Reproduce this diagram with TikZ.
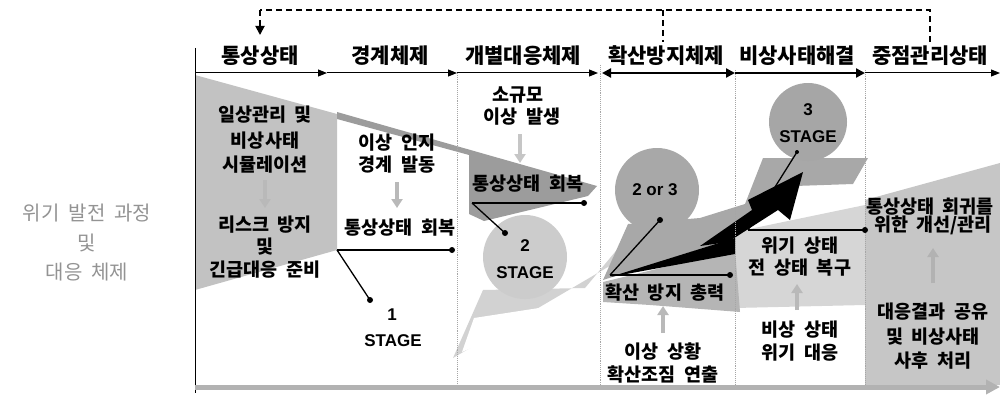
\documentclass[tikz,border=0pt]{standalone}
\usepackage{fontspec}
\setmainfont{Liberation Sans}
\newfontfamily\kr{Noto Sans CJK KR}
\newfontfamily\krw[WordSpace=2]{Noto Sans CJK KR}
\usetikzlibrary{arrows.meta}
\begin{document}
\begin{tikzpicture}[x=1pt,y=-1pt,
  hdr/.style={font=\kr\bfseries\fontsize{21}{21}\selectfont, inner sep=0pt},
  body/.style={font=\krw\bfseries\fontsize{18.5}{18.5}\selectfont, inner sep=0pt},
  side/.style={font=\krw\fontsize{20}{20}\selectfont, text=gray!85, inner sep=0pt},
  stg/.style={font=\bfseries\fontsize{17}{17}\selectfont, inner sep=0pt},
  hdrarr/.style={line width=1pt, -{Triangle[width=7pt,length=9pt]}},
  thickarr/.style={line width=2.6pt},
  sep/.style={densely dotted, gray!70, line width=0.9pt},
  topdash/.style={dash pattern=on 6pt off 4pt, line width=1.8pt},
  lnk/.style={line width=1.3pt},
  dotend/.style={circle, fill=black, inner sep=0pt, minimum size=6pt},
  flowarr/.style={gray!55, line width=3.5pt, -{Triangle[width=11pt,length=9pt]}},
  ball/.style={circle, inner sep=0pt, minimum size=#1},
]
\useasboundingbox (0,0) rectangle (1000,401);

% ---------------- background shapes ----------------
\fill[gray!48] (195,75) -- (337,114) -- (337,250) -- (195,290) -- cycle;
\fill[gray!78] (337,112) -- (597,186) -- (588,196) -- (484,221) -- (469,214) -- (469,155) -- (337,119) -- cycle;
\fill[gray!35] (453,358) -- (483,290) -- (585,288) -- (640,222) -- (642,247) -- cycle;
\fill[white] (474,318) -- (578,302) -- (462,352) -- cycle;
\fill[gray!32] (735,232) -- (865,205) -- (865,305) -- (735,308) -- cycle;
\fill[gray!45] (865,200) -- (1000,163) -- (1000,385) -- (865,385) -- cycle;
\fill[gray!68] (603,280) -- (628,224) -- (700,218) -- (745,204) -- (763,158) -- (868,158) -- (853,184) -- (795,186) -- (765,215) -- (735,238) -- cycle;
\fill[gray!58] (603,282) -- (735,250) -- (740,312) -- (650,305) -- (603,302) -- cycle;
\fill[black] (610,277) -- (735,238) -- (735,254) -- cycle;
\fill[black] (700,246) -- (752,210) -- (748,200) -- (803,172) -- (790,220) -- (778,210) -- (728,242) -- cycle;

% ---------------- separators and frame ----------------
\coordinate (s1t) at (457,73); \coordinate (s1b) at (457,385);
\coordinate (s2t) at (600,65); \coordinate (s2b) at (600,385);
\coordinate (s3t) at (735,70); \coordinate (s3b) at (735,385);
\coordinate (s4t) at (865,70); \coordinate (s4b) at (865,385);
\draw[sep] (s1t) -- (s1b);
\draw[sep] (s2t) -- (s2b);
\draw[sep] (s3t) -- (s3b);
\draw[sep] (s4t) -- (s4b);
\coordinate (ft) at (195,48); \coordinate (fb) at (195,393);
\draw[line width=1pt] (ft) -- (fb);

\coordinate (ba) at (195,387); \coordinate (bb) at (1000,387);
\draw[gray!60, line width=5pt, -{Triangle[width=14pt,length=14pt]}] (ba) -- (bb);

% ---------------- header ----------------
\coordinate (h0) at (195,73); \coordinate (h1) at (327,73);
\coordinate (h2) at (457,73); \coordinate (h3) at (598,73);
\coordinate (h3b) at (602,73); \coordinate (h4) at (735,73);
\coordinate (h5) at (865,73); \coordinate (h6) at (1000,73);
\draw[hdrarr] (h0) -- (h1);
\draw[hdrarr] (h1) -- (h2);
\draw[hdrarr] (h2) -- (h3);
\draw[thickarr, {Triangle[width=9pt,length=9pt]}-{Triangle[width=9pt,length=9pt]}] (h3b) -- (h4);
\draw[thickarr, -{Triangle[width=9pt,length=9pt]}] (h4) -- (h5);
\draw[hdrarr] (h5) -- (h6);

\node[hdr] (t1) at (260,56) {통상상태};
\node[hdr] (t2) at (390,56) {경계체제};
\node[hdr] (t3) at (523,56) {개별대응체제};
\node[hdr] (t4) at (666,56) {확산방지체제};
\node[hdr] (t5) at (797,56) {비상사태해결};
\node[hdr] (t6) at (930,56) {중점관리상태};

\coordinate (d0) at (260,10); \coordinate (dA) at (260,35);
\coordinate (d2) at (663,10); \coordinate (e2) at (663,42);
\coordinate (d1) at (930,10); \coordinate (e1) at (930,42);
\draw[topdash] (e1) -- (d1) -- (d0);
\draw[topdash, -{Triangle[width=9pt,length=9pt]}] (d0) -- (dA);
\draw[topdash] (d2) -- (e2);

% ---------------- left label ----------------
\node[side] (l1) at (87,213) {위기 발전 과정};
\node[side] (l2) at (87,243) {및};
\node[side] (l3) at (87,272) {대응 체제};

% ---------------- column 1 ----------------
\node[body] (a1) at (265,115) {일상관리 및};
\node[body] (a2) at (265,141) {비상사태};
\node[body] (a3) at (265,165) {시뮬레이션};
\coordinate (a3b) at (265,180); \coordinate (a4t) at (265,208);
\draw[flowarr] (a3b) -- (a4t);
\node[body] (a4) at (265,225) {리스크 방지};
\node[body] (a5) at (265,247) {및};
\node[body] (a6) at (265,270) {긴급대응 준비};

% ---------------- column 2 ----------------
\node[body] (b1) at (397,143) {이상 인지};
\node[body] (b2) at (397,165) {경계 발동};
\coordinate (b2b) at (397,182); \coordinate (b3t) at (397,208);
\draw[flowarr] (b2b) -- (b3t);
\node[body] (b3) at (400,228) {통상상태 회복};
\coordinate (p1) at (337,250); \coordinate (p1r) at (452,250); \coordinate (p1d) at (370,300);
\draw[lnk] (p1) -- (p1r);
\draw[lnk] (p1) -- (p1d);
\node[dotend] (q1) at (p1r) {};
\node[dotend] (q2) at (p1d) {};
\node[stg] (st1a) at (392,315) {1};
\node[stg] (st1b) at (393,341) {STAGE};

% ---------------- column 3 ----------------
\node[body] (c1) at (518,95) {소규모};
\node[body] (c2) at (522,117) {이상 발생};
\coordinate (c2b) at (520,134); \coordinate (c3t) at (520,163);
\draw[flowarr, gray!45] (c2b) -- (c3t);
\node[body] (c3) at (528,184) {통상상태 회복};
\coordinate (p2) at (472,203); \coordinate (p2r) at (584,203); \coordinate (p2d) at (505,233);
\node[ball=84pt, fill=gray!40] (ball2) at (525,257) {};
\draw[lnk] (p2) -- (p2r);
\draw[lnk] (p2) -- (p2d);
\node[dotend] (q3) at (p2r) {};
\node[dotend] (q4) at (p2d) {};
\node[stg] (st2a) at (525,246) {2};
\node[stg] (st2b) at (525,273) {STAGE};

% ---------------- column 4 ----------------
\node[ball=84pt, fill=gray!68] (ball23) at (657,190) {};
\node[stg] (or) at (655,190) {2 or 3};
\coordinate (p3) at (610,275); \coordinate (p3r) at (730,275); \coordinate (p3u) at (660,220);
\draw[lnk] (p3) -- (p3r);
\draw[lnk] (p3) -- (p3u);
\node[dotend] (q5) at (p3r) {};
\node[dotend] (q6) at (p3u) {};
\node[body] (d1t) at (665,293) {확산 방지 총력};
\coordinate (d2b) at (663,333); \coordinate (d2t) at (663,306);
\draw[flowarr] (d2b) -- (d2t);
\node[body] (d3) at (663,352) {이상 상황};
\node[body] (d4) at (663,375) {확산조짐 연출};

% ---------------- column 5 ----------------
\node[ball=78pt, fill=gray!70] (ball3) at (808,122) {};
\node[stg] (st3a) at (808,110) {3};
\node[stg] (st3b) at (808,137) {STAGE};
\coordinate (p4) at (748,230); \coordinate (p4r) at (865,230); \coordinate (p4u) at (797,152);
\draw[lnk] (p4) -- (p4r);
\draw[lnk] (p4) -- (p4u);
\node[dotend] (q7) at (p4r) {};
\node[dotend, minimum size=4pt] (q8) at (p4u) {};
\node[body] (e1t) at (800,246) {위기 상태};
\node[body] (e2t) at (800,268) {전 상태 복구};
\coordinate (e3b) at (797,310); \coordinate (e3t) at (797,284);
\draw[flowarr] (e3b) -- (e3t);
\node[body] (e4) at (800,330) {비상 상태};
\node[body] (e5) at (800,353) {위기 대응};

% ---------------- column 6 ----------------
\node[body, anchor=west] (f1) at (866,207) {통상상태 회귀를};
\node[body] (f2) at (933,225) {위한 개선/관리};
\coordinate (f3b) at (933,283); \coordinate (f3t) at (933,248);
\draw[flowarr, gray!60] (f3b) -- (f3t);
\node[body] (f4) at (933,312) {대응결과 공유};
\node[body] (f5) at (933,337) {및 비상사태};
\node[body] (f6) at (933,361) {사후 처리};
\end{tikzpicture}
\end{document}
